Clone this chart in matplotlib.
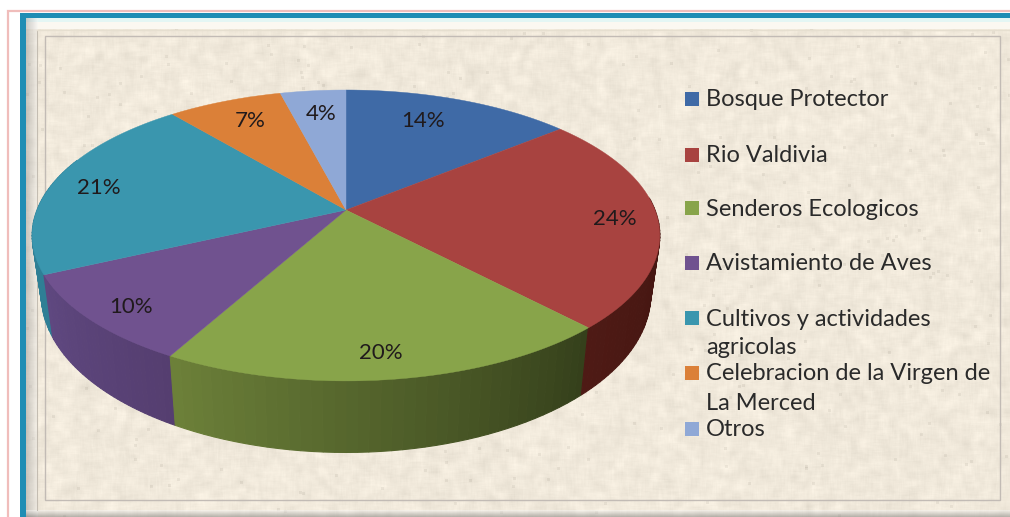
import numpy as np
import matplotlib
matplotlib.use('Agg')
import matplotlib.pyplot as plt
from matplotlib.patches import Rectangle, Polygon

plt.rcParams['font.family'] = ['Lato', 'DejaVu Sans']

labels = ['Bosque Protector', 'Rio Valdivia', 'Senderos Ecologicos', 'Avistamiento de Aves',
          'Cultivos y actividades\nagricolas', 'Celebracion de la Virgen de\nLa Merced', 'Otros']
values = [14, 24, 20, 10, 21, 7, 4]
colors = ['#3f6aa6', '#a84340', '#88a44a', '#70528f', '#3a96ae', '#db8038', '#8fa8d6']
# side colours, left end and right end of each slice
side_left = ['#3f6aa6', '#4e1a15', '#6c8039', '#5f4880', '#2f7f95', '#db8038', '#8fa8d6']
side_right = ['#3f6aa6', '#40140f', '#35401b', '#553e70', '#2f7f95', '#db8038', '#8fa8d6']
legend_y = [99, 155, 208, 263, 318, 373, 429]
label_xy = [(423, 121), (615, 219), (381, 353), (131, 307), (99, 188), (250, 121), (321, 114)]


# projection of the tilted disc
def top_rim(t):
    u, v = np.sin(t), np.cos(t)
    w = 1 + 0.175 * v
    return 346 + 309 * u / w, 210 - 141 * v / w


def bottom_rim(t):
    u, v = np.sin(t), np.cos(t)
    w = 1 + 0.175 * v
    return 346 + 300 * u / w, 267 - 153 * v / w


def blur(a, n):
    box = np.ones(n) / n
    a = np.apply_along_axis(lambda r: np.convolve(r, box, mode='same'), 0, a)
    return np.apply_along_axis(lambda r: np.convolve(r, box, mode='same'), 1, a)


fig = plt.figure(figsize=(10.10, 5.17), dpi=100, facecolor='white')
ax = fig.add_axes([0, 0, 1, 1])

# frame
ax.add_patch(Rectangle((7.5, 10.5), 1010, 600, fc='white', ec='#f0bdbb', lw=1.6, zorder=0))
ax.add_patch(Rectangle((20, 13), 1000, 600, fc='#1f8db4', ec='none', zorder=1))

# paper texture (decoration only)
rng = np.random.default_rng(3)
soft = blur(rng.normal(0, 1, (517, 1010)), 9) * 9
specks = blur((rng.random((517, 1010)) > 0.9993).astype(float), 3) * 9
img = np.array([0.945, 0.915, 0.86])[None, None, :] + soft[:, :, None] * 0.012 - specks[:, :, None] * 0.05
img = np.clip(img, 0, 1)
ax.imshow(img[18:517, 26:1010], extent=(26, 1010, 517, 18), zorder=1.5, aspect='auto', interpolation='bilinear')

# bevel
ax.add_patch(Rectangle((26, 18), 984, 4, fc='#e4f6f4', ec='none', zorder=2))
ax.add_patch(Rectangle((26, 22), 984, 7, fc='#fbf8f1', ec='none', zorder=2))
ax.imshow(np.linspace(0.55, 0.95, 12)[None, :], extent=(26, 38, 517, 18), cmap='gray', vmin=0, vmax=1,
          alpha=0.4, zorder=2, aspect='auto')
ax.imshow(np.linspace(0.95, 0.45, 7)[:, None], extent=(26, 1010, 517, 510), cmap='gray', vmin=0, vmax=1,
          alpha=0.45, zorder=2, aspect='auto')
ax.plot([37, 37], [30, 510], color='#c4bdb2', lw=0.8, zorder=2.1)
ax.plot([37, 1010], [30, 30], color='#e6dfd0', lw=1, zorder=2.1)
ax.add_patch(Rectangle((45, 36), 955, 464, fc='none', ec='#c2bbb5', lw=1.0, zorder=2.1))
ax.set_xlim(0, 1010)
ax.set_ylim(517, 0)
ax.axis('off')

# slice angles from the values, clockwise from the top
edges = np.cumsum([0] + values) / sum(values) * 2 * np.pi

# sides of the front slices, darkened across each one
for i in [4, 3, 2, 1]:
    t0, t1 = edges[i], edges[i + 1]
    if i == 4:
        t1 = np.radians(292)
    if i == 1:
        t0 = np.radians(85)
    ts = np.linspace(t0, t1, 41)
    c0 = np.array(matplotlib.colors.to_rgb(side_right[i]))
    c1 = np.array(matplotlib.colors.to_rgb(side_left[i]))
    for j in range(40):
        a, b = ts[j], ts[j + 1]
        xs = [top_rim(a)[0], top_rim(b)[0], bottom_rim(b)[0], bottom_rim(a)[0]]
        ys = [top_rim(a)[1], top_rim(b)[1], bottom_rim(b)[1], bottom_rim(a)[1]]
        col = c0 + (c1 - c0) * j / 39
        ax.add_patch(Polygon(np.column_stack([xs, ys]), fc=col, ec=col, lw=0.8, zorder=3))

# top faces
for i in range(len(values)):
    ts = np.linspace(edges[i], edges[i + 1], 80)
    x, y = top_rim(ts)
    ax.add_patch(Polygon(np.column_stack([np.r_[346, x], np.r_[210, y]]), fc=colors[i], ec=colors[i], lw=0.3, zorder=4))

# percentages on the slices
for i in range(len(values)):
    ax.text(label_xy[i][0], label_xy[i][1], '%d%%' % values[i], fontsize=16, color='#201a1c',
            ha='center', va='center', zorder=5)

# legend
for i in range(len(labels)):
    ax.add_patch(Rectangle((685, legend_y[i] - 7), 14, 14, fc=colors[i], ec='none', zorder=5))
    lines = labels[i].split('\n')
    for k in range(len(lines)):
        ax.text(706, legend_y[i] + 1 + k * 29, lines[k], fontsize=17, color='#2a2a2a', ha='left', va='center', zorder=5)

fig.savefig('out.png', dpi=100)
